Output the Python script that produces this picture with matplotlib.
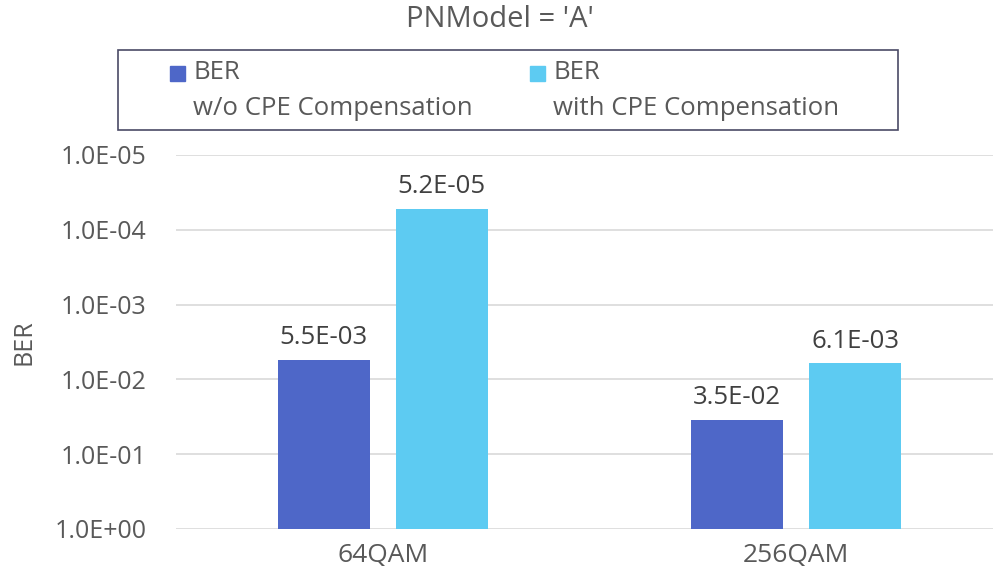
import matplotlib
matplotlib.use("Agg")
import matplotlib.pyplot as plt
import matplotlib.ticker as mticker
from matplotlib.patches import Rectangle
import numpy as np

# ── Data ──────────────────────────────────────────────────────────────
categories = ["64QAM", "256QAM"]
ber_wo_cpe = [5.5e-3, 3.5e-2]
ber_with_cpe = [5.2e-5, 6.1e-3]
series_labels = ["BER\nw/o CPE Compensation", "BER\nwith CPE Compensation"]
y_ticks = [1e0, 1e-1, 1e-2, 1e-3, 1e-4, 1e-5]

# ── Style ─────────────────────────────────────────────────────────────
plt.rcParams["font.family"] = ["Open Sans", "DejaVu Sans"]
TEXT = "#595959"
GRID = "#D9D9D9"
C_WO = "#4E67C8"
C_WITH = "#5DCBF2"

fig = plt.figure(figsize=(9.93, 5.73), dpi=100)
ax = fig.add_axes([0.1772, 0.0768, 0.8228, 0.6527])

x = np.arange(len(categories))
off, w = 0.1425, 0.222
series = [(ber_wo_cpe, C_WO, -off), (ber_with_cpe, C_WITH, off)]
for vals, color, dx in series:
    vals = np.array(vals)
    ax.bar(x + dx, vals - 1.0, bottom=1.0, width=w, color=color, zorder=3)
    for xi, v in zip(x + dx, vals):
        ax.annotate(f"{v:.1E}", (xi, v),
                    xytext=(0, 7), textcoords="offset points",
                    ha="center", va="bottom", fontsize=18.5, color="#404040")

ax.set_yscale("log")
ax.set_ylim(1.0, 1e-5)
ax.set_xlim(-0.5, 1.476)
ax.yaxis.set_major_locator(mticker.FixedLocator(y_ticks))
ax.yaxis.set_minor_locator(mticker.NullLocator())
ax.yaxis.set_major_formatter(mticker.FuncFormatter(lambda v, p: f"{v:.1E}"))
ax.set_xticks(x)
ax.set_xticklabels(categories)
ax.grid(axis="y", color=GRID, linewidth=1.2, zorder=0)
for s in ax.spines.values():
    s.set_visible(False)
ax.tick_params(length=0, labelsize=18, labelcolor=TEXT)
ax.tick_params(axis="y", pad=21)
ax.tick_params(axis="x", labelsize=19, pad=10)
ax.set_ylabel("BER", fontsize=18, color=TEXT, labelpad=13)

fig.text(0.503, 0.966, "PNModel = 'A'", ha="center", va="center",
         fontsize=21, color=TEXT)

# legend box
fig.patches.append(Rectangle((118 / 993, 1 - 130 / 573), 780 / 993, 80 / 573,
                             transform=fig.transFigure, fill=False,
                             edgecolor="#4A4A66", linewidth=1.2))
for (lx, color, label) in [(170, C_WO, series_labels[0]), (530, C_WITH, series_labels[1])]:
    fig.patches.append(Rectangle((lx / 993, 1 - 81 / 573), 15 / 993, 15 / 573,
                                 transform=fig.transFigure, color=color))
    fig.text((lx + 23) / 993, 1 - 60 / 573, label, ha="left", va="top",
             fontsize=18.5, color=TEXT, linespacing=1.6)

fig.savefig("out.png", dpi=100)
